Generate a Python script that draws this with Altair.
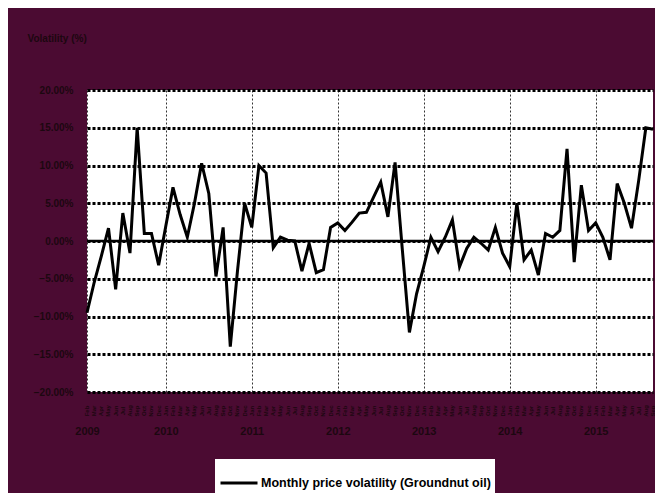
import altair as alt
import pandas as pd

# Monthly price volatility (Groundnut oil), %, Feb 2009 - Sep 2015
volatility = [
    -9.5, -5.5, -2.0, 1.7, -6.4, 3.7, -1.6, 15.0, 1.0, 1.0,
    -3.2, 2.0, 7.1, 3.5, 0.5, 5.0, 10.3, 6.3, -4.7, 1.8,
    -14.0, -4.0, 5.0, 1.8, 10.0, 9.0, -0.9, 0.5, 0.1, 0.0,
    -4.0, -0.3, -4.2, -3.8, 1.8, 2.4, 1.4, 2.5, 3.7, 3.8,
    5.8, 7.8, 3.2, 10.4, -1.0, -12.1, -7.0, -3.4, 0.5, -1.4,
    0.5, 2.8, -3.4, -1.0, 0.5, -0.3, -1.2, 1.8, -1.6, -3.4,
    5.0, -2.5, -1.2, -4.5, 1.0, 0.5, 1.4, 12.2, -2.8, 7.4,
    1.4, 2.4, 0.5, -2.5, 7.6, 5.0, 1.7, 8.0, 15.0, 14.8,
]
month_names = ["Jan", "Feb", "Mar", "Apr", "May", "Jun",
               "Jul", "Aug", "Sep", "Oct", "Nov", "Dec"]
first_month = 1  # February
year_labels = ["2009", "2010", "2011", "2012", "2013", "2014", "2015"]
year_positions = [0, 11, 23, 35, 47, 59, 71]
y_ticks = [-20, -15, -10, -5, 0, 5, 10, 15, 20]
series_name = "Monthly price volatility (Groundnut oil)"

df = pd.DataFrame({
    "idx": list(range(len(volatility))),
    "vol": volatility,
    "month": [month_names[(first_month + i) % 12] for i in range(len(volatility))],
    "series": [series_name] * len(volatility),
})

label_map = "{" + ",".join(f"'{p}':'{y}'" for p, y in zip(year_positions, year_labels)) + "}"

W, H = 566, 302
maroon = "#4b0b32"
dark = "#1c0710"

x_scale = alt.Scale(domain=[0, len(volatility) - 1], nice=False, zero=False)
y_scale = alt.Scale(domain=[-20, 20], nice=False)

x_axis = alt.Axis(
    values=year_positions, title=None, labelExpr=f"{label_map}[datum.value]",
    labelFlush=False, ticks=False, domain=False, labelPadding=33,
    labelFont="Liberation Sans", labelFontSize=11, labelFontWeight="bold",
    labelColor=dark, grid=True, gridColor="#333333", gridWidth=1,
    gridDash=[2, 2])
y_axis = alt.Axis(
    values=y_ticks, title="Volatility (%)", titleAngle=0, titleAlign="left",
    titleAnchor="end", titleX=-60, titleY=-47, titleFont="Liberation Sans",
    titleFontSize=10, titleFontWeight="bold", titleColor=dark,
    labelExpr="format(datum.value/100, '.2%')", labelFont="Liberation Sans",
    labelFontSize=10, labelFontWeight="bold", labelColor=dark,
    labelPadding=14, labelOverlap=False, ticks=False, domain=False, grid=True,
    gridColor="black", gridWidth=3, gridDash=[3, 2])

line = alt.Chart(df).mark_line(strokeWidth=3, color="black").encode(
    x=alt.X("idx:Q", scale=x_scale, axis=x_axis),
    y=alt.Y("vol:Q", scale=y_scale, axis=y_axis),
    color=alt.Color("series:N", scale=alt.Scale(range=["black"]), legend=alt.Legend(
        title=None, orient="none", legendX=128, legendY=369, direction="horizontal",
        fillColor="white", padding=4, symbolType="stroke", symbolSize=1369,
        symbolStrokeWidth=3, labelFont="Liberation Sans", labelFontSize=12.5,
        labelFontWeight="bold", labelColor="black", labelOffset=2, labelLimit=400)),
)

zero = alt.Chart(pd.DataFrame({"z": [0]})).mark_rule(color="black", strokeWidth=2.5).encode(
    y=alt.Y("z:Q", scale=y_scale, axis=y_axis)
)

months = alt.Chart(df).mark_text(
    angle=270, fontSize=6, fontWeight="bold", font="Liberation Sans",
    color=dark, align="center", baseline="middle"
).encode(
    x=alt.X("idx:Q", scale=x_scale, axis=x_axis),
    y=alt.value(H + 19),
    text="month:N",
)

chart = alt.layer(line, zero, months).properties(
    width=W, height=H,
    autosize=alt.AutoSizeParams(type="none"),
    padding={"left": 79, "top": 82, "right": 2, "bottom": 101},
    background=maroon,
).configure_view(fill="white", stroke=None)

chart.save("out.html", embed_options={"renderer": "svg", "actions": False})
